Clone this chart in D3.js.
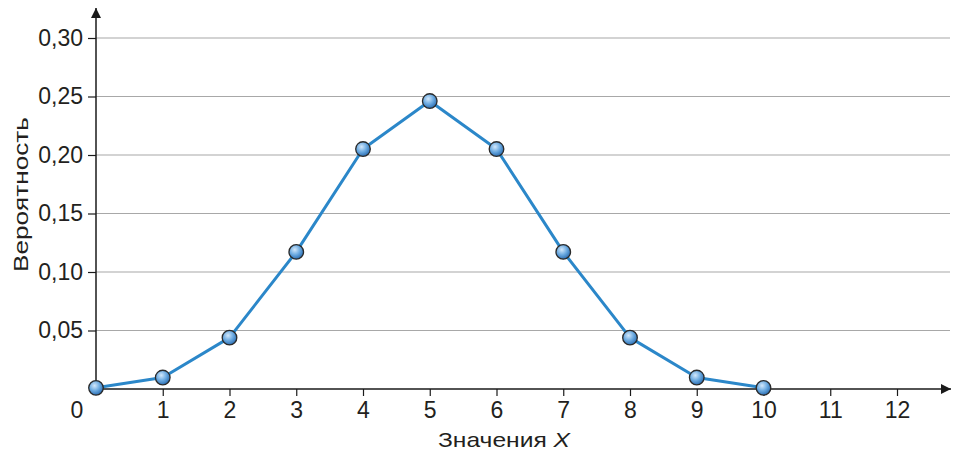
<!DOCTYPE html>
<html>
<head>
<meta charset="utf-8">
<script src="https://cdn.jsdelivr.net/npm/d3@7"></script>
<style>
  html, body { margin: 0; padding: 0; background: #fff; }
  svg { display: block; font-family: "Liberation Sans", Arial, sans-serif; }
</style>
</head>
<body>
<svg id="chart" width="965" height="454"></svg>
<script>
// Binomial distribution, n = 10, p = 0.5
const xValues = [0, 1, 2, 3, 4, 5, 6, 7, 8, 9, 10];
const probabilities = [0.001, 0.0098, 0.0439, 0.1172, 0.2051, 0.2461, 0.2051, 0.1172, 0.0439, 0.0098, 0.001];
const xTicks = [0, 1, 2, 3, 4, 5, 6, 7, 8, 9, 10, 11, 12];
const yTicks = [0.05, 0.10, 0.15, 0.20, 0.25, 0.30];
const xTitle = "Значения ";
const xTitleVar = "X";
const yTitle = "Вероятность";

const svg = d3.select("#chart");
const x0 = 96, y0 = 389;
const textColor = "#231f20";
const font = "Liberation Sans, Arial, sans-serif";

const x = d3.scaleLinear().domain([0, 12]).range([x0, x0 + 12 * 66.75]);
const y = d3.scaleLinear().domain([0, 0.30]).range([y0, 38]);
const fmt = v => d3.format(".2f")(v).replace(".", ",");

const defs = svg.append("defs");
const grad = defs.append("radialGradient")
  .attr("id", "ball").attr("cx", "40%").attr("cy", "35%").attr("r", "65%");
grad.append("stop").attr("offset", "0%").attr("stop-color", "#d3e8fb");
grad.append("stop").attr("offset", "55%").attr("stop-color", "#6aa9e0");
grad.append("stop").attr("offset", "100%").attr("stop-color", "#2d6fb3");

defs.append("marker")
  .attr("id", "arrow").attr("viewBox", "0 0 10 10")
  .attr("refX", 10).attr("refY", 5)
  .attr("markerWidth", 18).attr("markerHeight", 10)
  .attr("markerUnits", "userSpaceOnUse")
  .attr("orient", "auto")
  .append("path").attr("d", "M0,0 L10,5 L0,10 Z").attr("fill", "#1a1a1a");

// horizontal grid lines
svg.append("g").selectAll("line").data(yTicks).join("line")
  .attr("x1", x0).attr("x2", 950)
  .attr("y1", d => y(d)).attr("y2", d => y(d))
  .attr("stroke", "#a8a8a8").attr("stroke-width", 1.2);

// y axis
const yAxis = d3.axisLeft(y).tickValues(yTicks).tickFormat(fmt).tickSize(8).tickPadding(5);
const gy = svg.append("g").attr("transform", `translate(${x0},0)`).call(yAxis)
  .attr("font-size", 23).attr("font-family", font);
gy.select(".domain").remove();
gy.selectAll(".tick line").attr("stroke", "#1a1a1a").attr("stroke-width", 1.2);
gy.selectAll(".tick text").attr("fill", textColor);

// x axis
const xAxis = d3.axisBottom(x).tickValues(xTicks.filter(d => d > 0)).tickFormat(d3.format("d")).tickSize(7).tickPadding(6);
const gx = svg.append("g").attr("transform", `translate(0,${y0})`).call(xAxis)
  .attr("font-size", 23).attr("font-family", font);
gx.select(".domain").remove();
gx.selectAll(".tick line").attr("stroke", "#1a1a1a").attr("stroke-width", 1.2);
gx.selectAll(".tick text").attr("fill", textColor);
// origin label, on the same baseline as the other x tick labels
svg.append("text").attr("x", x(0) - 19).attr("y", y0 + 13).attr("dy", "0.71em")
  .attr("text-anchor", "middle").attr("font-size", 23).attr("fill", textColor).text(xTicks[0]);

// axis lines with arrows
svg.append("line").attr("x1", x0).attr("y1", y0).attr("x2", 951).attr("y2", y0)
  .attr("stroke", "#1a1a1a").attr("stroke-width", 1.5).attr("marker-end", "url(#arrow)");
svg.append("line").attr("x1", x0).attr("y1", y0).attr("x2", x0).attr("y2", 8)
  .attr("stroke", "#1a1a1a").attr("stroke-width", 1.5).attr("marker-end", "url(#arrow)");

// axis titles (wide typeface look via textLength)
const xt = svg.append("text").attr("x", 438).attr("y", 447)
  .attr("font-size", 21).attr("fill", textColor)
  .attr("textLength", 132).attr("lengthAdjust", "spacingAndGlyphs");
xt.append("tspan").text(xTitle);
xt.append("tspan").attr("font-style", "italic").text(xTitleVar);

svg.append("text")
  .attr("transform", `translate(28,272) rotate(-90)`)
  .attr("font-size", 21).attr("fill", textColor)
  .attr("textLength", 155).attr("lengthAdjust", "spacingAndGlyphs")
  .text(yTitle);

// data line
const pts = xValues.map((d, i) => [d, probabilities[i]]);
svg.append("path").datum(pts)
  .attr("fill", "none").attr("stroke", "#2b87c9").attr("stroke-width", 3)
  .attr("stroke-linejoin", "round")
  .attr("d", d3.line().x(d => x(d[0])).y(d => y(d[1])));

// markers
svg.append("g").selectAll("circle").data(pts).join("circle")
  .attr("cx", d => x(d[0])).attr("cy", d => y(d[1])).attr("r", 7.3)
  .attr("fill", "url(#ball)").attr("stroke", "#2a2a2a").attr("stroke-width", 1.3);
</script>
</body>
</html>
